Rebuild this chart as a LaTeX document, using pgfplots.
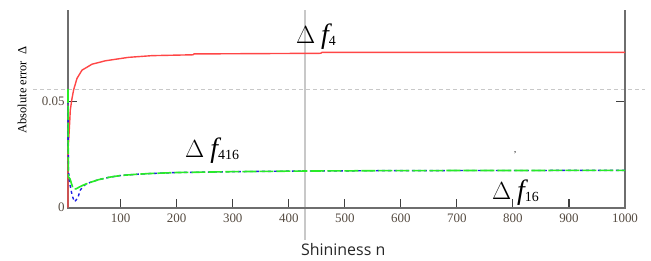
\documentclass[border=0pt]{standalone}
\usepackage{pgfplots}
\pgfplotsset{compat=1.18}
\usepackage{fontspec}
\setmainfont{Liberation Serif}
\newfontfamily\labelfont{Open Sans}
\definecolor{tickc}{RGB}{85,75,65}
\definecolor{redc}{RGB}{255,70,70}
\definecolor{greenc}{RGB}{40,235,40}
\definecolor{bluec}{RGB}{30,30,230}
\definecolor{axc}{RGB}{110,110,110}
\definecolor{curc}{RGB}{200,200,200}
\newcommand{\dfn}[1]{{\fontsize{28}{30}\selectfont$\Delta$\hspace{6bp}\itshape f}\raisebox{-2bp}{\fontsize{14}{16}\selectfont #1}}
\begin{document}
\begin{tikzpicture}
\path[use as bounding box] (-68bp,-53.3bp) rectangle (583bp,207.7bp);
\begin{axis}[
  at={(0,0)}, anchor=south west,
  scale only axis, width=557bp, height=197.7bp,
  xmin=6, xmax=1000, ymin=0, ymax=0.0927,
  clip=false,
  axis line style={draw=none},
  xtick={100,200,300,400,500,600,700,800,900,1000},
  xticklabels={100,200,300,400,500,600,700,800,900,1000},
  ytick={0,0.05}, yticklabels={0,0.05},
  scaled y ticks=false,
  xtick pos=left, ytick pos=both, yticklabel pos=left,
  tick align=inside, major tick length=9bp,
  tick style={draw=black!75, line width=1.1bp},
  xticklabel style={font=\fontsize{13}{15}\selectfont, text=tickc, yshift=-3bp},
  yticklabel style={font=\fontsize{13}{15}\selectfont, text=tickc},
]
% cursor lines
\draw[curc, line width=1.3bp] (axis cs:429,0.0927) -- (axis cs:429,-0.0151);
\draw[curc, line width=1.2bp, dash pattern=on 4bp off 3bp] (axis cs:-56,0.0555) -- (axis cs:1035,0.0555);
% axis lines
\draw[axc, line width=1.8bp] (rel axis cs:0,1) -- (rel axis cs:0,0) -- (rel axis cs:1,0) -- (rel axis cs:1,1);

\addplot[redc, line width=1.4bp] coordinates {
(6,0) (6.1,0.027) (7.5,0.033) (9,0.040) (10.1,0.0458) (13,0.051) (16,0.0552)
(22,0.0606) (31,0.0645) (49,0.0673) (73,0.0689) (114,0.0705) (156,0.0713)
(229,0.0717) (231,0.0721) (457,0.0724) (459,0.0728) (1000,0.0728)};

\addplot[bluec, line width=1.4bp, dash pattern=on 3bp off 3bp] coordinates {
(6,0.050) (6.3,0.030) (7,0.017) (9,0.0115) (12,0.0075) (15,0.0045) (18,0.0028)
(21,0.0038) (24,0.005) (28,0.0083) (35,0.0105) (45,0.0118) (60,0.0131)
(80,0.0143) (100,0.0151) (130,0.0157) (150,0.0160) (200,0.0165) (230,0.0166)
(300,0.0169) (430,0.0172) (600,0.0174) (1000,0.0175)};

\addplot[greenc, line width=1.6bp, dash pattern=on 14bp off 3bp] coordinates {
(6,0.0556) (6.3,0.030) (6.8,0.0145) (9.6,0.0135) (15,0.0090) (20,0.0088)
(27,0.0098) (35,0.0108) (45,0.0118) (60,0.0131) (80,0.0143) (100,0.0151)
(130,0.0157) (150,0.0160) (200,0.0165) (230,0.0166) (300,0.0169) (430,0.0172)
(600,0.0174) (1000,0.0175)};

\node[rotate=90, font=\fontsize{12.5}{14}\selectfont] at (rel axis cs:-0.0826,0.595) {Absolute error\ \ \char"0394};
\node[anchor=base, font=\labelfont\fontsize{16}{18}\selectfont, text=black!85, inner sep=0pt] at (rel axis cs:0.494,-0.24) {Shininess n};

\node[anchor=base west, inner sep=0pt] at (rel axis cs:0.409,0.833) {\dfn{4}};
\node[anchor=base west, inner sep=0pt] at (rel axis cs:0.210,0.256) {\dfn{416}};
\node[anchor=base west, inner sep=0pt] at (rel axis cs:0.761,0.039) {\dfn{16}};
\node[anchor=base, inner sep=0pt, font=\fontsize{9}{9}\selectfont] at (rel axis cs:0.8025,0.255) {'};
\end{axis}
\end{tikzpicture}
\end{document}
